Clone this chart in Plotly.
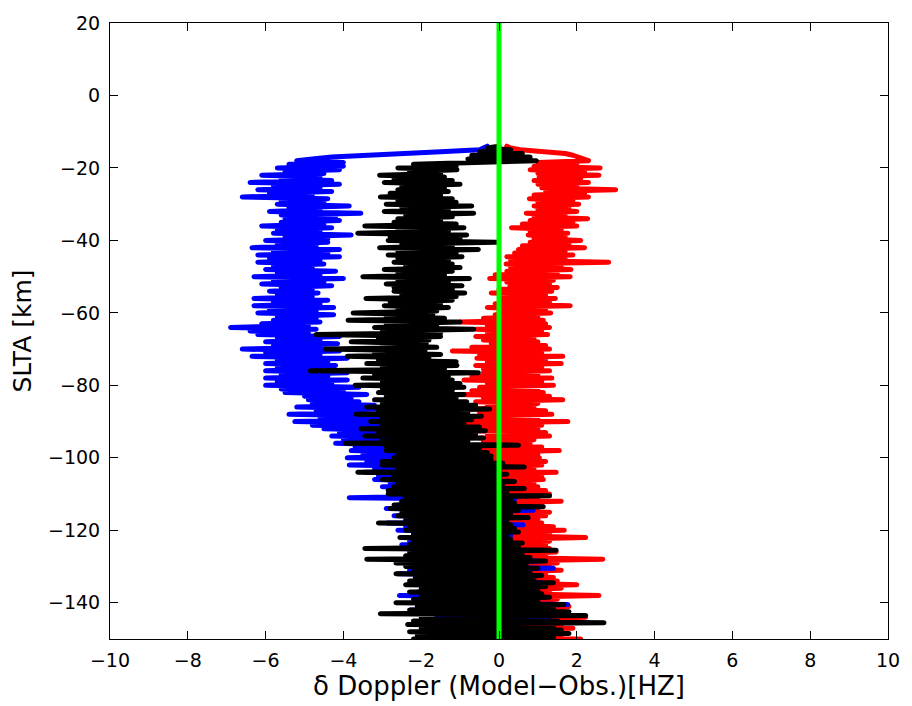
import plotly.graph_objects as go

# SLTA altitude samples [km]
slta_km = [
    -14.0, -14.5, -15.0, -15.5, -16.0, -16.5, -17.0, -17.5, -18.0, -18.5, -19.0, -19.5,
    -20.0, -20.5, -21.0, -21.5, -22.0, -22.5, -23.0, -23.5, -24.0, -24.5,
    -25.0, -25.5, -26.0, -26.5, -27.0, -27.5, -28.0, -28.5, -29.0, -29.5,
    -30.0, -30.5, -31.0, -31.5, -32.0, -32.5, -33.0, -33.5, -34.0, -34.5,
    -35.0, -35.5, -36.0, -36.5, -37.0, -37.5, -38.0, -38.5, -39.0, -39.5,
    -40.0, -40.5, -41.0, -41.5, -42.0, -42.5, -43.0, -43.5, -44.0, -44.5,
    -45.0, -45.5, -46.0, -46.5, -47.0, -47.5, -48.0, -48.5, -49.0, -49.5,
    -50.0, -50.5, -51.0, -51.5, -52.0, -52.5, -53.0, -53.5, -54.0, -54.5,
    -55.0, -55.5, -56.0, -56.5, -57.0, -57.5, -58.0, -58.5, -59.0, -59.5,
    -60.0, -60.5, -61.0, -61.5, -62.0, -62.5, -63.0, -63.5, -64.0, -64.5,
    -65.0, -65.5, -66.0, -66.5, -67.0, -67.5, -68.0, -68.5, -69.0, -69.5,
    -70.0, -70.5, -71.0, -71.5, -72.0, -72.5, -73.0, -73.5, -74.0, -74.5,
    -75.0, -75.5, -76.0, -76.5, -77.0, -77.5, -78.0, -78.5, -79.0, -79.5,
    -80.0, -80.5, -81.0, -81.5, -82.0, -82.5, -83.0, -83.5, -84.0, -84.5,
    -85.0, -85.5, -86.0, -86.5, -87.0, -87.5, -88.0, -88.5, -89.0, -89.5,
    -90.0, -90.5, -91.0, -91.5, -92.0, -92.5, -93.0, -93.5, -94.0, -94.5,
    -95.0, -95.5, -96.0, -96.5, -97.0, -97.5, -98.0, -98.5, -99.0, -99.5,
    -100.0, -100.5, -101.0, -101.5, -102.0, -102.5, -103.0, -103.5, -104.0, -104.5,
    -105.0, -105.5, -106.0, -106.5, -107.0, -107.5, -108.0, -108.5, -109.0, -109.5,
    -110.0, -110.5, -111.0, -111.5, -112.0, -112.5, -113.0, -113.5, -114.0, -114.5,
    -115.0, -115.5, -116.0, -116.5, -117.0, -117.5, -118.0, -118.5, -119.0, -119.5,
    -120.0, -120.5, -121.0, -121.5, -122.0, -122.5, -123.0, -123.5, -124.0, -124.5,
    -125.0, -125.5, -126.0, -126.5, -127.0, -127.5, -128.0, -128.5, -129.0, -129.5,
    -130.0, -130.5, -131.0, -131.5, -132.0, -132.5, -133.0, -133.5, -134.0, -134.5,
    -135.0, -135.5, -136.0, -136.5, -137.0, -137.5, -138.0, -138.5, -139.0, -139.5,
    -140.0, -140.5, -141.0, -141.5, -142.0, -142.5, -143.0, -143.5, -144.0, -144.5,
    -145.0, -145.5, -146.0, -146.5, -147.0, -147.5, -148.0, -148.5, -149.0, -149.5,
    -150.0,
]

# delta Doppler residuals [Hz] - blue series
doppler_blue = [
    -0.3, -0.4, -0.5, -1.5, -2.6, -3.6, -4.3, -4.8, -5.2, -4.0, -5.4, -4.0,
    -5.7, -4.1, -5.5, -4.5, -6.1, -4.6, -5.6, -4.3, -6.4, -4.1,
    -5.8, -4.6, -6.2, -4.3, -5.9, -4.8, -6.6, -4.4, -5.6, -4.5,
    -5.7, -3.85, -5.4, -4.6, -5.9, -3.55, -5.6, -4.2, -5.5, -4.1,
    -5.6, -4.5, -6.1, -4.3, -5.7, -4.6, -5.8, -3.8, -5.5, -4.4,
    -6.0, -4.4, -5.7, -4.7, -6.35, -4.1, -5.8, -4.4, -6.2, -4.1,
    -5.9, -4.6, -6.2, -4.5, -5.8, -4.8, -6.0, -4.2, -5.7, -4.6,
    -6.3, -4.0, -5.8, -4.5, -6.1, -4.3, -5.6, -4.8, -5.9, -4.65,
    -5.7, -4.8, -6.3, -4.4, -5.8, -4.6, -6.3, -4.25, -5.9, -4.7,
    -6.2, -4.25, -5.7, -4.7, -5.8, -4.6, -6.1, -4.9, -6.9, -4.7,
    -6.4, -4.9, -6.2, -4.1, -5.7, -4.6, -6.0, -4.15, -5.8, -4.5,
    -6.6, -4.1, -6.0, -4.6, -6.35, -3.9, -5.7, -4.4, -6.0, -4.2,
    -5.7, -4.6, -6.0, -3.9, -5.6, -4.4, -6.0, -3.9, -5.7, -4.3,
    -6.0, -3.6, -5.6, -4.0, -5.5, -3.4, -5.0, -3.8, -4.9, -3.6,
    -4.8, -3.2, -5.2, -3.0, -4.7, -3.3, -5.4, -2.8, -4.6, -3.0,
    -5.25, -2.6, -4.8, -2.9, -4.5, -2.4, -4.1, -2.7, -4.3, -2.5,
    -4.0, -2.2, -4.2, -2.3, -3.7, -2.6, -3.8, -2.0, -3.5, -2.2,
    -3.9, -1.8, -3.4, -1.5, -3.85, -1.2, -3.2, -1.6, -3.45, -0.8,
    -3.1, -1.2, -3.2, -1.0, -2.8, -0.5, -3.0, 0.3, -2.6, -0.6,
    -2.8, -1.0, -3.85, 0.4, -2.5, -0.2, -2.6, 0.0, -2.9, 0.88,
    -2.4, -0.3, -2.7, -0.5, -2.3, 0.2, -2.87, 0.62, -2.4, -0.2,
    -2.6, 0.0, -2.2, 0.3, -2.45, -0.4, -2.3, 0.3, -2.5, 0.1,
    -2.1, 0.3, -2.2, 0.5, -2.0, -0.2, -2.27, 1.0, -1.9, 0.4,
    -2.0, 1.4, -2.3, 0.2, -2.6, 0.6, -1.9, 0.4, -2.2, 1.1,
    -1.7, 0.3, -1.8, 0.9, -2.1, 0.2, -2.56, 1.2, -1.8, 0.5,
    -2.0, 1.77, -1.7, 0.4, -2.27, 0.8, -1.5, 0.3, -1.6, 1.3,
    -1.4, 0.6, -1.3, 0.5, -1.6, 0.2, -1.8, 1.0, -1.2, 0.4,
    -1.5,
]

# red series
doppler_red = [
    0.2, 0.3, 0.55, 1.2, 1.7, 1.9, 2.05, 2.2, 2.3, 1.0, 2.0, 0.9,
    2.6, 0.8, 2.2, 1.0, 2.57, 1.03, 2.1, 0.9, 2.3, 1.0,
    2.0, 1.1, 3.0, 1.2, 2.2, 0.9, 2.3, 0.78, 1.9, 1.0,
    2.05, 0.9, 1.8, 1.0, 2.0, 0.7, 1.7, 0.9, 2.28, 0.8,
    1.9, 0.6, 2.0, 0.32, 1.6, 0.8, 1.77, 0.75, 1.7, 0.9,
    2.1, 0.8, 1.8, 0.6, 2.2, 0.5, 1.7, 0.4, 1.9, 0.2,
    1.7, 0.3, 2.82, 0.18, 1.6, 0.3, 1.85, 0.2, 1.5, -0.1,
    1.83, -0.24, 1.4, 0.2, 1.3, 0.28, 1.5, 0.0, 1.36, -0.2,
    1.2, 0.1, 1.45, 0.1, 1.3, -0.1, 1.83, -0.3, 1.2, 0.0,
    1.33, -0.1, 1.0, -0.4, 1.14, -1.0, 1.2, -0.3, 1.3, -0.6,
    1.1, -0.3, 1.25, -0.6, 0.9, -0.4, 1.0, -0.2, 1.2, -0.7,
    1.3, -1.2, 1.1, -0.5, 1.64, -0.57, 1.2, -0.3, 1.6, -0.6,
    1.1, -0.4, 1.3, -0.4, 1.0, -0.7, 1.36, -0.9, 1.1, -0.3,
    1.4, -0.5, 1.0, -0.7, 1.14, -1.15, 1.3, -0.4, 1.64, -0.6,
    1.0, -0.3, 0.9, -0.8, 1.2, -0.5, 1.36, -0.5, 1.0, -0.9,
    1.77, -1.2, 1.1, -0.6, 1.0, -0.7, 1.2, -0.3, 1.3, -0.5,
    0.9, -0.4, 0.8, -0.4, 1.1, -0.7, 1.55, -0.6, 1.0, -0.3,
    1.04, -0.3, 1.2, -0.2, 1.1, 0.0, 0.9, -0.5, 1.47, -0.4,
    1.1, -0.2, 1.14, -0.2, 0.9, -0.6, 1.0, -0.5, 1.2, -0.1,
    1.3, -0.1, 1.0, -0.4, 1.6, -0.3, 1.1, 0.0, 1.0, 0.2,
    1.3, 0.0, 1.2, -0.2, 1.0, 0.1, 1.1, 0.3, 1.4, 0.0,
    1.68, -0.3, 1.3, 0.1, 2.23, 0.2, 1.3, -0.1, 1.2, 0.0,
    1.3, 0.0, 1.47, 0.3, 1.2, 0.1, 2.67, 0.2, 1.5, 0.0,
    1.3, -0.2, 1.6, 0.1, 1.2, 0.4, 1.4, 0.2, 1.5, 0.3,
    2.0, 0.3, 1.6, 0.1, 1.3, 0.5, 2.57, 0.4, 1.5, 0.2,
    1.4, 0.2, 1.8, 0.4, 1.67, 0.5, 1.5, 0.3, 2.23, 0.3,
    1.7, 0.3, 1.6, -0.2, 1.9, -1.67, 1.4, 0.5, 1.6, 0.2,
    2.1,
]

# black series
doppler_black = [
    0.0, -0.3, 0.3, -0.5, 0.6, -0.7, 0.8, -0.8, 0.96, -1.1, -2.2, -1.1,
    -2.6, -1.08, -2.3, -1.5, -3.07, -1.4, -2.7, -1.2, -2.95, -1.0,
    -2.5, -1.4, -2.6, -1.3, -2.8, -1.5, -3.05, -1.2, -2.6, -1.1,
    -2.9, -0.7, -2.5, -1.3, -2.95, -0.65, -2.4, -1.2, -2.6, -1.5,
    -2.7, -1.1, -3.45, -0.9, -2.6, -1.3, -3.63, -0.83, -2.8, -1.0,
    -2.85, -0.06, -2.5, -1.2, -3.07, -0.53, -2.6, -1.1, -2.85, -0.95,
    -2.6, -1.3, -2.7, -1.2, -2.4, -1.0, -2.95, -1.2, -2.6, -1.4,
    -3.5, -0.76, -2.6, -1.3, -2.9, -0.95, -2.7, -1.2, -2.7, -0.88,
    -2.5, -1.1, -3.42, -1.2, -2.8, -1.5, -2.95, -1.3, -2.6, -1.6,
    -3.75, -1.7, -2.9, -1.4, -3.88, -1.0, -2.9, -1.6, -3.2, -0.65,
    -3.0, -1.5, -4.7, -1.5, -3.1, -1.8, -3.8, -1.87, -3.0, -1.6,
    -4.45, -1.9, -3.2, -1.5, -3.9, -1.8, -3.1, -1.1, -3.4, -1.08,
    -3.0, -1.4, -4.85, -0.53, -3.2, -1.3, -3.5, -1.2, -3.0, -1.0,
    -3.7, -0.9, -3.0, -1.2, -3.1, -0.9, -2.9, -1.1, -3.2, -0.83,
    -3.0, -0.6, -3.4, -0.24, -3.1, -0.8, -3.67, -0.45, -3.0, -0.7,
    -3.3, -0.9, -3.0, -0.5, -3.55, -0.35, -3.1, -0.6, -3.45, -0.4,
    -3.0, -0.8, -3.95, 0.5, -2.9, -0.5, -2.9, -0.3, -2.6, -0.2,
    -2.7, -0.2, -3.0, 0.1, -3.0, 0.65, -2.6, 0.0, -3.63, 0.2,
    -2.7, 0.0, -3.0, 0.4, -2.6, 0.1, -2.7, 0.65, -2.85, 0.2,
    -2.85, 1.3, -2.4, 0.3, -2.5, 0.4, -2.7, 1.14, -2.8, 0.5,
    -2.5, 0.3, -2.6, 0.75, -2.4, 0.2, -3.1, 0.3, -2.3, 0.4,
    -2.4, 0.5, -2.2, 0.2, -2.55, 0.3, -2.2, 0.6, -2.3, 0.5,
    -3.45, 1.47, -2.3, 0.6, -2.4, 0.8, -3.4, 1.2, -2.65, 0.7,
    -2.4, 1.0, -2.2, 0.8, -2.65, 1.1, -2.15, 0.9, -2.3, 1.4,
    -2.4, 1.2, -2.0, 1.0, -2.3, 1.1, -2.0, 1.3, -2.2, 1.0,
    -2.65, 1.67, -2.1, 1.4, -2.3, 1.8, -3.05, 2.23, -2.0, 1.5,
    -2.2, 2.7, -2.35, 1.4, -2.0, 1.6, -2.3, 1.8, -2.1, 1.4,
    -2.2,
]

# zero reference line
zero_x = [0, 0]
zero_y = [-150, 20]

x_ticks = [-10, -8, -6, -4, -2, 0, 2, 4, 6, 8, 10]
y_ticks = [-140, -120, -100, -80, -60, -40, -20, 0, 20]

fig = go.Figure()
for xs, col in [(doppler_red, "#ff0000"), (doppler_blue, "#0000ff"), (doppler_black, "#000000")]:
    fig.add_trace(go.Scatter(x=xs, y=slta_km, mode="lines",
                             line=dict(color=col, width=5), showlegend=False,
                             hoverinfo="skip"))
fig.add_trace(go.Scatter(x=zero_x, y=zero_y, mode="lines",
                         line=dict(color="#00ff00", width=5), showlegend=False,
                         hoverinfo="skip"))

axis_common = dict(showline=True, linecolor="black", linewidth=1, mirror="ticks",
                   ticks="inside", ticklen=8, tickwidth=1, tickcolor="black",
                   showgrid=False, zeroline=False, ticklabeloverflow="allow",
                   tickfont=dict(family="DejaVu Sans", size=19, color="black"))

fig.update_xaxes(range=[-10, 10], tickvals=x_ticks,
                 title=dict(text="δ Doppler (Model−Obs.)[HZ]",
                            font=dict(family="DejaVu Sans", size=26, color="black"),
                            standoff=5),
                 ticklabelstandoff=4,
                 **axis_common)
fig.update_yaxes(range=[-150, 20], tickvals=y_ticks,
                 title=dict(text="SLTA [km]",
                            font=dict(family="DejaVu Sans", size=25, color="black"),
                            standoff=9),
                 ticklabelstandoff=5,
                 **axis_common)

fig.update_layout(width=912, height=706,
                  margin=dict(l=110, r=15, t=20, b=64),
                  paper_bgcolor="white", plot_bgcolor="white")

post = ("document.documentElement.style.overflow='hidden';"
        "document.body.style.margin='0';document.body.style.overflow='hidden';"
        "document.querySelectorAll('path.js-line').forEach(function(p){"
        "p.style.strokeLinejoin='round';p.style.strokeLinecap='round';});")
fig.write_html("out.html", post_script=post,
               config={"displayModeBar": False, "staticPlot": True})
